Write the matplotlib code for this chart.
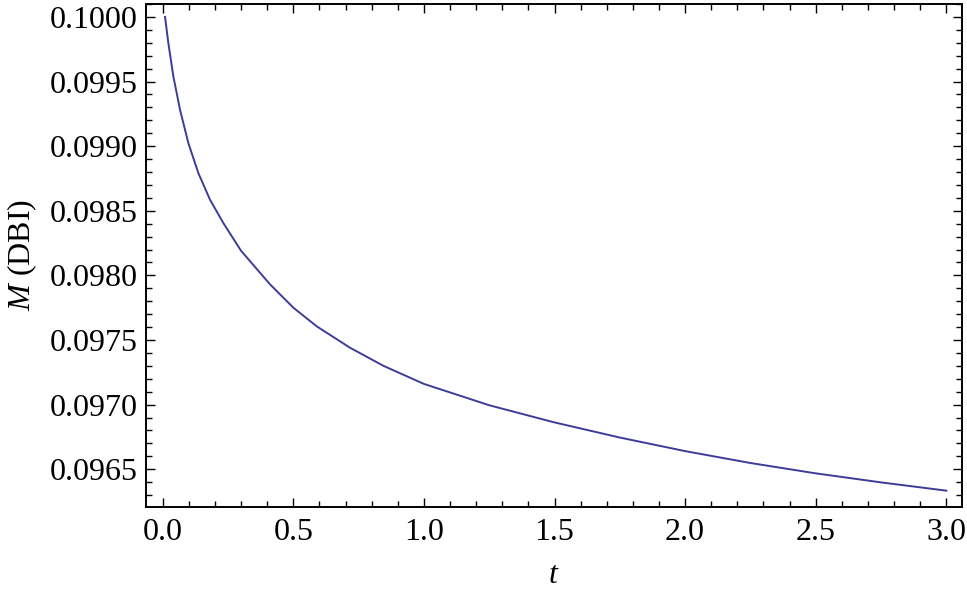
import matplotlib
matplotlib.use("Agg")
import matplotlib.pyplot as plt
from matplotlib.ticker import MultipleLocator, FormatStrFormatter

plt.rcParams['font.family'] = ['Liberation Serif', 'DejaVu Serif']
plt.rcParams['mathtext.fontset'] = 'custom'
plt.rcParams['mathtext.rm'] = 'Liberation Serif'
plt.rcParams['mathtext.it'] = 'Liberation Serif:italic'

t_vals = [0.0088, 0.0214, 0.0406, 0.0662, 0.098, 0.1363, 0.1811, 0.232,
          0.30, 0.411, 0.50, 0.59, 0.717, 0.845, 1.0, 1.25, 1.5, 1.75,
          2.0, 2.25, 2.5, 2.75, 3.0]
M_vals = [0.100000, 0.099799, 0.099540, 0.099282, 0.099024, 0.098792,
          0.098585, 0.098405, 0.098190, 0.097930, 0.097750, 0.097605,
          0.097440, 0.097300, 0.097160, 0.096995, 0.096862, 0.096745,
          0.096640, 0.096548, 0.096468, 0.096398, 0.096334]

fig = plt.figure(figsize=(9.67, 5.94), dpi=100)
ax = fig.add_axes([0.151, 0.147, 0.8438, 0.8463])
ax.plot(t_vals, M_vals, color='#3d3d99', lw=1.4, solid_joinstyle='round')

ax.set_xlim(-0.064, 3.06)
ax.set_ylim(0.09621, 0.10010)
ax.xaxis.set_major_locator(MultipleLocator(0.5))
ax.xaxis.set_minor_locator(MultipleLocator(0.1))
ax.yaxis.set_major_locator(MultipleLocator(0.0005))
ax.yaxis.set_minor_locator(MultipleLocator(0.0001))
ax.xaxis.set_major_formatter(FormatStrFormatter('%.1f'))
ax.yaxis.set_major_formatter(FormatStrFormatter('%.4f'))
ax.tick_params(which='both', direction='in', top=True, right=True, width=1.0, labelsize=23, colors='black')
ax.tick_params(axis='x', which='major', length=6.5, pad=8)
ax.tick_params(axis='y', which='major', length=6.5, pad=6)
ax.tick_params(which='minor', length=4)
for s in ax.spines.values():
    s.set_linewidth(1.4)

ax.set_xlabel(r'$t$', fontsize=23, labelpad=10)
ax.set_ylabel(r'$M$ (DBI)', fontsize=23, labelpad=8)

fig.savefig('out.png', dpi=100)
